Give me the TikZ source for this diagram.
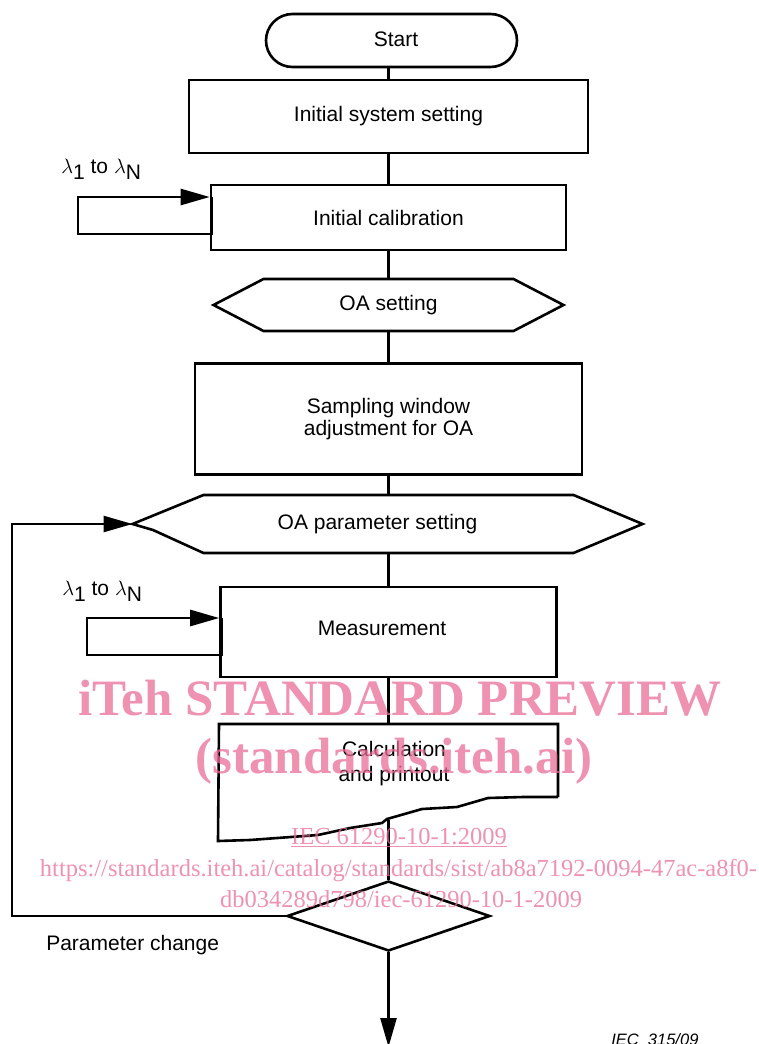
\documentclass[tikz,border=0pt]{standalone}
\usepackage{fontspec}
\setmainfont{Liberation Sans}
\newfontfamily\wmfont{Liberation Serif}
\usetikzlibrary{arrows.meta,shapes.misc,shapes.geometric}
\definecolor{wmpink}{RGB}{233,110,150}

\begin{document}
\begin{tikzpicture}[x=1pt, y=-1pt, line width=2.6pt,
        every node/.style={font=\fontsize{21}{25}\selectfont, inner sep=0pt},
        box/.style={draw, rectangle, align=center},
        term/.style={draw, rounded rectangle, minimum width=251pt, minimum height=53pt},
        hexbody/.style={rectangle, outer sep=0pt, align=center},
        decision/.style={draw, diamond, minimum width=203pt, minimum height=70pt},
        tip/.style={-{Triangle[length=29pt,width=16pt]}},
        wm/.style={text=wmpink, opacity=0.75, anchor=base},
        wmbig/.style={wm, font=\wmfont\bfseries\fontsize{51}{51}\selectfont},
        wmsmall/.style={wm, font=\wmfont\fontsize{24.5}{25}\selectfont}]
    \useasboundingbox (0,0) rectangle (759,1044);
    \clip (0,0) rectangle (759,1044);

    \node [term] (start) at (391.5,40.5) {};
    \node (starttext) at (396,39) {Start};
    \node [box, minimum width=399pt, minimum height=73pt] (init) at (388.5,116.5) {Initial system setting};
    \node [box, minimum width=355pt, minimum height=65pt] (calib) at (388.5,217.5) {Initial calibration};
    \node [hexbody, minimum width=250pt, minimum height=52pt] (oaset) at (388.5,305) {OA setting};
    \node [box, minimum width=387pt, minimum height=111pt] (samp) at (388.5,419) {Sampling window\\[-3pt]adjustment for OA};
    \node [hexbody, minimum width=370pt, minimum height=58pt] (oapar) at (388.5,524) {};
    \node (oapartext) at (377.5,524) {OA parameter setting};
    \node [box, minimum width=336pt, minimum height=90pt] (meas) at (388.5,632) {};
    \node (meastext) at (382,628) {Measurement};
    \node [hexbody, minimum width=339pt, minimum height=73pt] (calc) at (388.5,760.5) {};
    \node [align=center] (calctext) at (394,764) {Calculation\\and printout};
    \node [decision] (dec) at (388.5,916) {};

    \coordinate (oaset-w) at ([xshift=-50pt]oaset.west);
    \coordinate (oaset-e) at ([xshift=50pt]oaset.east);
    \coordinate (oapar-w) at ([xshift=-71pt]oapar.west);
    \coordinate (oapar-e) at ([xshift=69pt]oapar.east);
    \coordinate (oapar-k) at (153,530);
    \coordinate (calcout) at (388.5,820);
    \coordinate (fb) at (12,700);
    \coordinate (endpt) at (388.5,1047);
    \coordinate (loopa) at (78,197);
    \coordinate (loopb) at (78,234);
    \coordinate (loopc) at (87,618);
    \coordinate (loopd) at (87,655);

    \draw (oaset.north west) -- (oaset-w) -- (oaset.south west) -- (oaset.south east) -- (oaset-e) -- (oaset.north east) -- cycle;
    \draw (oapar.north west) -- (oapar-w) -- (oapar-k) -- (oapar.south west) -- (oapar.south east) -- (oapar-e) -- (oapar.north east) -- cycle;
    \draw (calc.south east) -- (calc.north east) -- (calc.north west) -- (218,841)
        -- (250,840) -- (318,835) -- (350,828) -- (382,823) -- (387,819) -- (422,809) -- (457,807)
        -- (488,798) -- (523,797) -- (calc.south east);

    \draw (init.north |- start.south) -- (init.north);
    \draw (init.south) -- (calib.north);
    \draw (calib.south) -- (oaset.north);
    \draw (oaset.south) -- (samp.north);
    \draw (samp.south) -- (oapar.north);
    \draw (oapar.south) -- (meas.north);
    \draw (meas.south) -- (calc.north);
    \draw (calcout) -- (dec.north);
    \draw [tip] (dec.south) -- (endpt);
    \draw [tip] (dec.west) -| (fb) |- (oapar-w);

    \draw [tip] ([xshift=2pt]calib.west |- loopa) -- ([xshift=2pt]calib.west |- loopb) -- (loopb) -- (loopa) -- (calib.west |- loopa);
    \draw [tip] ([xshift=2pt]meas.west |- loopc) -- ([xshift=2pt]meas.west |- loopd) -- (loopd) -- (loopc) -- (meas.west |- loopc);

    \node [anchor=base west] (lam1) at (60,173) {$\lambda$\raisebox{-6pt}{1} to $\lambda$\raisebox{-6pt}{N}};
    \node [anchor=base west] (lam2) at (61,595) {$\lambda$\raisebox{-6pt}{1} to $\lambda$\raisebox{-6pt}{N}};
    \node [anchor=base west] (change) at (45,950) {Parameter change};
    \node [anchor=base west, font=\fontsize{16.5}{18}\selectfont\itshape] (iec) at (610,1045) {IEC\ \ 315/09};

    \node [wmbig] (wm1) at (400,715) {iTeh STANDARD PREVIEW};
    \node [wmbig] (wm2) at (394,773) {(standards.iteh.ai)};
    \node [wmsmall] (wm3) at (399,844) {\underline{IEC 61290-10-1:2009}};
    \node [wmsmall] (wm4) at (398.5,876) {https://standards.iteh.ai/catalog/standards/sist/ab8a7192-0094-47ac-a8f0-};
    \node [wmsmall] (wm5) at (401,907) {db034289d798/iec-61290-10-1-2009};
\end{tikzpicture}
\end{document}
